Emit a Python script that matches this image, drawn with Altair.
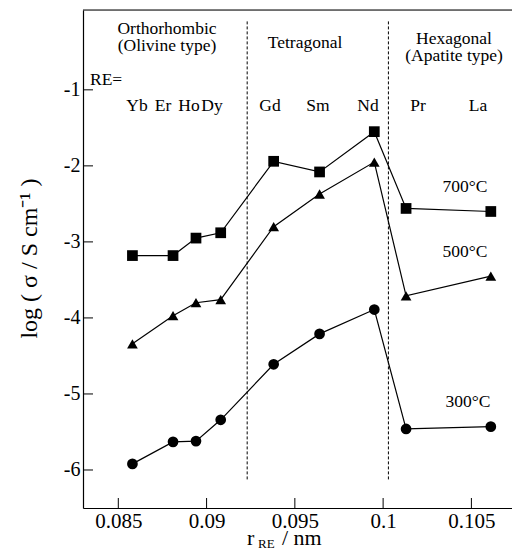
import altair as alt
import pandas as pd

# ---- data ----
elements = ["Yb", "Er", "Ho", "Dy", "Gd", "Sm", "Nd", "Pr", "La"]
radius_nm = [0.0858, 0.0881, 0.0894, 0.0908, 0.0938, 0.0964, 0.0995, 0.1013, 0.1061]
log_sigma_700 = [-3.18, -3.18, -2.95, -2.88, -1.94, -2.08, -1.55, -2.56, -2.60]
log_sigma_500 = [-4.34, -3.97, -3.80, -3.76, -2.80, -2.37, -1.95, -3.71, -3.45]
log_sigma_300 = [-5.92, -5.63, -5.62, -5.34, -4.61, -4.21, -3.89, -5.46, -5.43]
series_names = ["700°C", "500°C", "300°C"]
series_shapes = ["square", "triangle-up", "circle"]
x_ticks = [0.085, 0.09, 0.095, 0.1, 0.105]
y_ticks = [-1, -2, -3, -4, -5, -6]
phase_boundaries = [0.0923, 0.1003]
boundary_span = [-0.1, -6.15]

rows = []
for name, vals in zip(series_names, [log_sigma_700, log_sigma_500, log_sigma_300]):
    for el, r, v in zip(elements, radius_nm, vals):
        rows.append({"series": name, "element": el, "r": r, "logs": v})
df = pd.DataFrame(rows)

W, H = 429, 498
FONT = "Liberation Serif"
xs = alt.Scale(domain=[0.083, 0.1073], nice=False, zero=False)
ys = alt.Scale(domain=[-6.5, 0.05], nice=False, zero=False)

x_axis = alt.Axis(values=x_ticks, format="~g", ticks=False, grid=False,
                  labelFontSize=21, labelPadding=2, labelFont=FONT,
                  labelColor="black", domainColor="black", domainWidth=1.2,
                  title=None)
y_axis = alt.Axis(values=y_ticks, ticks=False, grid=False,
                  labelExpr="datum.value < 0 ? '-' + abs(datum.value) : '' + datum.value",
                  labelFontSize=20, labelPadding=3, labelFont=FONT,
                  labelColor="black", domainColor="black", domainWidth=1.2,
                  title="log ( σ / S cm⁻¹ )", titleFont=FONT, titleFontSize=24,
                  titleFontWeight="normal", titleColor="black",
                  titleAngle=270, titleX=-47, titleY=248,
                  titleAlign="center", titleBaseline="alphabetic")

base = alt.Chart(df)

lines = base.mark_line(color="black", strokeWidth=1.2).encode(
    x=alt.X("r:Q", scale=xs, axis=x_axis),
    y=alt.Y("logs:Q", scale=ys, axis=y_axis),
    detail="series:N",
    order="r:Q",
)

points = base.mark_point(filled=True, opacity=1, size=115, color="black").encode(
    x=alt.X("r:Q", scale=xs, axis=x_axis),
    y=alt.Y("logs:Q", scale=ys, axis=y_axis),
    shape=alt.Shape("series:N", scale=alt.Scale(domain=series_names, range=series_shapes), legend=None),
)

bdf = pd.DataFrame({"b": phase_boundaries, "y1": [boundary_span[0]] * 2, "y2": [boundary_span[1]] * 2})
boundaries = alt.Chart(bdf).mark_rule(color="black", strokeWidth=1, strokeDash=[3, 2]).encode(
    x=alt.X("b:Q", scale=xs, axis=x_axis),
    y=alt.Y("y1:Q", scale=ys, axis=y_axis),
    y2="y2:Q",
)

xt = alt.Chart(pd.DataFrame({"t": x_ticks})).mark_rule(color="black", strokeWidth=1).encode(
    x=alt.X("t:Q", scale=xs, axis=x_axis), y=alt.value(H - 10), y2=alt.value(H))
yt = alt.Chart(pd.DataFrame({"t": y_ticks})).mark_rule(color="black", strokeWidth=1).encode(
    y=alt.Y("t:Q", scale=ys, axis=y_axis), x=alt.value(0), x2=alt.value(10))

top_line = alt.Chart(alt.Data(values=[{}])).mark_rule(color="black", strokeWidth=1.2).encode(
    x=alt.value(0), x2=alt.value(W), y=alt.value(0))


def label(text, x, y, size=17.5, align="center"):
    return alt.Chart(alt.Data(values=[{}])).mark_text(
        text=text, font=FONT, fontSize=size, align=align, baseline="alphabetic",
        color="black", lineHeight=16.5
    ).encode(x=alt.value(x), y=alt.value(y))


annotations = [
    label(["Orthorhombic", "(Olivine type)"], 84, 24),
    label("Tetragonal", 222, 38),
    label(["Hexagonal", "(Apatite type)"], 371, 34),
    label("RE=", 7, 75, align="left"),
    label("Yb", 54, 101), label("Er", 80, 101), label("Ho", 106, 101), label("Dy", 129, 101),
    label("Gd", 187, 101), label("Sm", 235, 101), label("Nd", 285, 101),
    label("Pr", 335, 101), label("La", 395, 101),
    label("700°C", 382, 182), label("500°C", 382, 247), label("300°C", 385, 397),
    label("r", 164, 535, size=22, align="left"),
    label("RE", 175, 538, size=13, align="left"),
    label("/ nm", 199, 535, size=22, align="left"),
]

chart = alt.layer(lines, boundaries, xt, yt, top_line, points, *annotations).properties(
    width=W, height=H,
    autosize=alt.AutoSizeParams(type="none"),
    padding={"left": 75, "top": 2, "right": 0, "bottom": 42},
).configure_view(stroke=None).configure(background="white")

chart.save("out.html", embed_options={"renderer": "svg", "actions": False})
